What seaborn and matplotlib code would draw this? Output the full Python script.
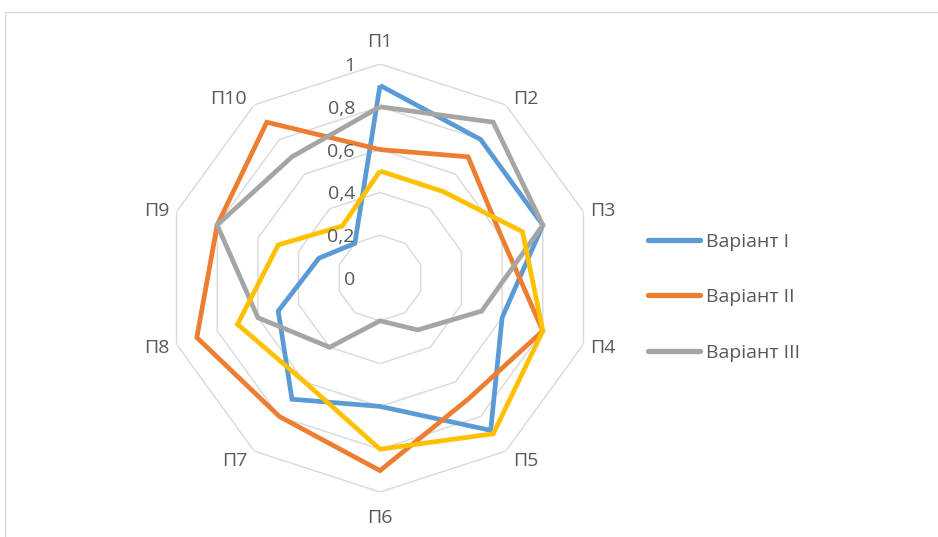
import numpy as np
import pandas as pd
import matplotlib
matplotlib.use("Agg")
import matplotlib.pyplot as plt
import matplotlib.transforms as mtransforms
from matplotlib.lines import Line2D
from matplotlib.patches import Rectangle
import seaborn as sns

# ---- data ----
categories = ["П1", "П2", "П3", "П4", "П5", "П6", "П7", "П8", "П9", "П10"]
variant_1 = [0.90, 0.80, 0.80, 0.60, 0.88, 0.60, 0.70, 0.50, 0.30, 0.20]
variant_2 = [0.60, 0.70, 0.60, 0.80, 0.70, 0.90, 0.80, 0.90, 0.80, 0.90]
variant_3 = [0.80, 0.90, 0.80, 0.50, 0.30, 0.20, 0.40, 0.60, 0.80, 0.70]
variant_4 = [0.50, 0.50, 0.70, 0.80, 0.90, 0.80, 0.60, 0.70, 0.50, 0.30]
series_names = ["Варіант I", "Варіант II", "Варіант III", "Варіант IV"]
legend_names = ["Варіант I", "Варіант II", "Варіант III"]
tick_values = [0, 0.2, 0.4, 0.6, 0.8, 1.0]
tick_labels = ["0", "0,2", "0,4", "0,6", "0,8", "1"]

colors = ["#5B9BD5", "#ED7D31", "#A5A5A5", "#FFC000"]
text_color = "#595959"
grid_color = "#D9D9D9"
FS = 14

sns.set_theme(style="white")
plt.rcParams["font.family"] = ["Open Sans", "DejaVu Sans"]

W, H = 938, 537
fig = plt.figure(figsize=(W / 100, H / 100), dpi=100)
fig.patch.set_facecolor("white")

# chart border (partly cropped)
fig.add_artist(Rectangle((5 / W, -0.2), 1.5, 1 - 12 / H + 0.2, transform=fig.transFigure,
                         fill=False, edgecolor=grid_color, linewidth=1.0))

cx, cy, R = 380, 278, 214
ax = fig.add_axes([(cx - R) / W, (H - cy - R) / H, 2 * R / W, 2 * R / H], projection="polar")
ax.set_theta_offset(np.pi / 2)
ax.set_theta_direction(-1)
ax.set_ylim(0, 1)
ax.grid(False)
ax.spines["polar"].set_visible(False)
ax.set_xticks([])
ax.set_yticks([])
ax.patch.set_alpha(0)

n = len(categories)
angles = np.arange(n) * 2 * np.pi / n
angles_closed = np.append(angles, angles[0])

# grid decagons
for lv in tick_values[1:]:
    ax.plot(angles_closed, [lv] * (n + 1), color=grid_color, lw=1.0, zorder=1)

# data lines
rows = []
for name, vals in zip(series_names, [variant_1, variant_2, variant_3, variant_4]):
    vv = list(vals) + [vals[0]]
    for i, (a, v) in enumerate(zip(angles_closed, vv)):
        rows.append({"series": name, "order": i, "theta": a, "value": v})
df = pd.DataFrame(rows)

for name, col in zip(series_names, colors):
    sub = df[df["series"] == name]
    sns.lineplot(data=sub, x="theta", y="value", sort=False, estimator=None,
                 color=col, lw=3.4, ax=ax, legend=False, zorder=3)
ax.set_xlabel("")
ax.set_ylabel("")
for ln in ax.lines:
    ln.set_solid_joinstyle("miter")
    ln.set_solid_capstyle("butt")

# category labels (placed outside the outer vertex, Excel style)
for a, lab in zip(angles, categories):
    sx, sy = np.sin(a), np.cos(a)
    if sx > 0.3:
        ha, dx = "left", 7
    elif sx < -0.3:
        ha, dx = "right", -7
    else:
        ha, dx = "center", 0
    if sy > 0.9:
        va, dy = "bottom", 13
    elif sy < -0.9:
        va, dy = "top", -17
    elif sy > 0.5:
        va, dy = "bottom", -3
    elif sy < -0.5:
        va, dy = "top", -1
    elif sy > 0:
        va, dy = "center", 1
    else:
        va, dy = "center", -4
    tr = mtransforms.offset_copy(ax.transData, fig=fig, x=dx, y=dy, units="dots")
    ax.text(a, 1.0, lab, transform=tr, ha=ha, va=va, fontsize=FS, color=text_color)

# radial tick labels
off = mtransforms.offset_copy(ax.transData, fig=fig, x=-25, y=-2, units="dots")
for v, lab in zip(tick_values, tick_labels):
    ax.text(0, v, lab, transform=off, ha="right", va="center", fontsize=FS,
            color=text_color, zorder=5)

# legend (first three series)
handles = [Line2D([0], [0], color=c, lw=3.8, solid_capstyle="round") for c in colors[:3]]
leg = fig.legend(handles, legend_names, loc="upper left",
                 bbox_to_anchor=(630 / W, 1 - 215 / H), frameon=False,
                 fontsize=FS, handlelength=2.68, handletextpad=0.31,
                 labelspacing=1.93, labelcolor=text_color)

fig.savefig("out.png", dpi=100)
